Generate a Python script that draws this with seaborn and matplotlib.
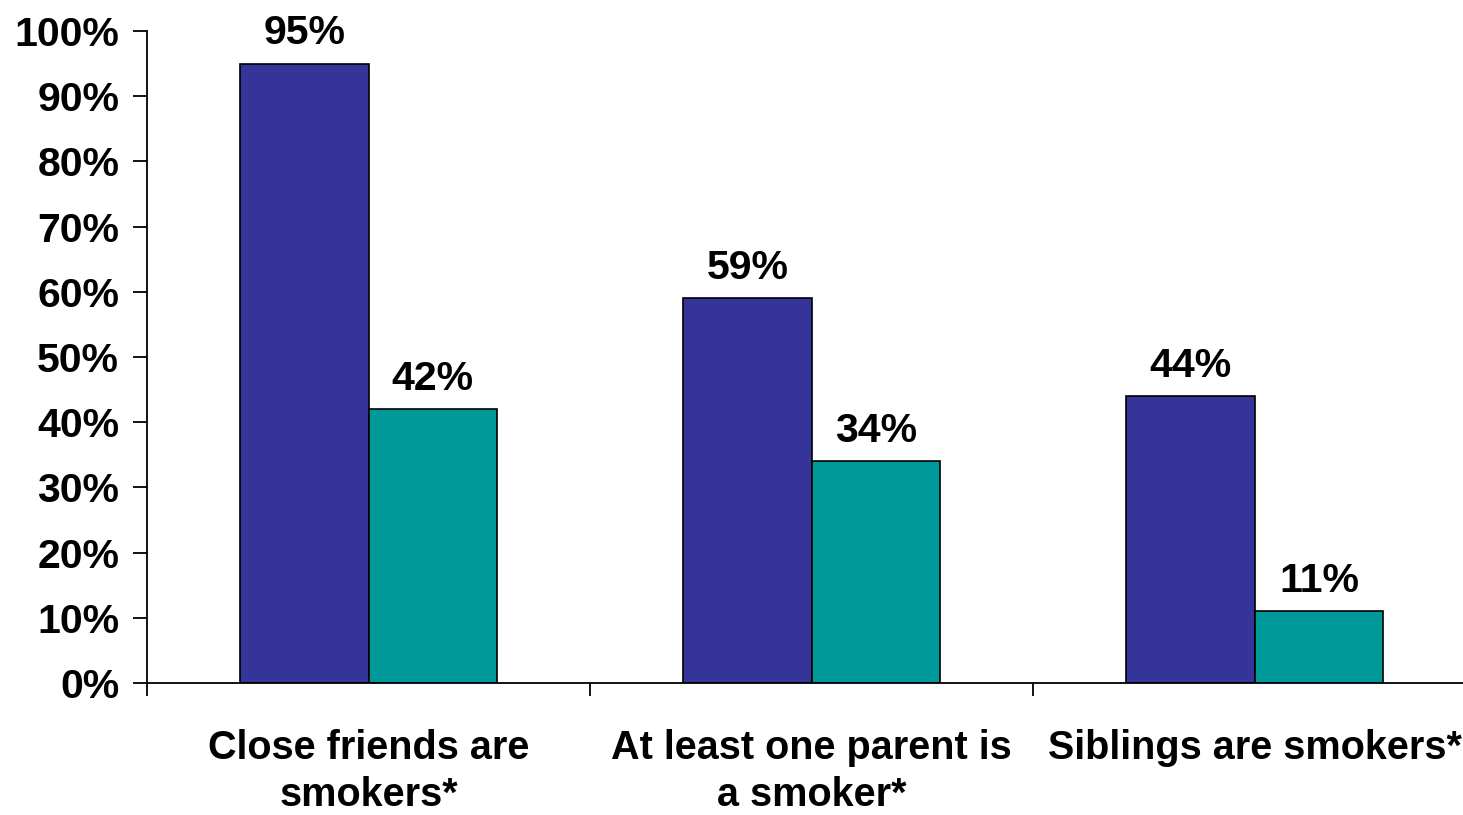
import matplotlib
matplotlib.use("Agg")
import matplotlib.pyplot as plt
import seaborn as sns
import pandas as pd
from matplotlib.ticker import FixedLocator

# Share of respondents reporting each smoking influence
categories = ["Close friends are\nsmokers*", "At least one parent is\na smoker*", "Siblings are smokers*"]
groups = ["Smokers", "Non-smokers"]
smokers = [95, 59, 44]
non_smokers = [42, 34, 11]
y_ticks = list(range(0, 101, 10))
y_tick_labels = [f"{t}%" for t in y_ticks]
colors = ["#343499", "#009999"]

df = pd.DataFrame({
    "category": categories * 2,
    "group": [groups[0]] * 3 + [groups[1]] * 3,
    "value": smokers + non_smokers,
})

sns.set_theme(style="white")
plt.rcParams["font.family"] = ["Liberation Sans", "DejaVu Sans"]
plt.rcParams["font.weight"] = "bold"
plt.rcParams["text.color"] = "black"
plt.rcParams["xtick.color"] = "black"
plt.rcParams["ytick.color"] = "black"
plt.rcParams["xtick.labelcolor"] = "black"
plt.rcParams["ytick.labelcolor"] = "black"

FS = 29.5
FS_X = 28.5

fig = plt.figure(figsize=(14.63, 8.15), dpi=100)
ax = fig.add_axes([0.1005, 0.162, 0.9085, 0.800])

sns.barplot(data=df, x="category", y="value", hue="group", palette=colors,
            width=0.58, edgecolor="black", linewidth=1.2, saturation=1,
            legend=False, ax=ax)

for cont in ax.containers:
    vals = [p.get_height() for p in cont]
    ax.bar_label(cont, labels=[f"{v:.0f}%" for v in vals], padding=8,
                 fontsize=FS, fontweight="bold", color="black")

ax.set_xlim(-0.5, 2.5)
ax.set_ylim(0, 100)
ax.set_yticks(y_ticks)
ax.set_yticklabels(y_tick_labels, fontsize=FS, fontweight="bold", color="black")
ax.set_xticks(range(len(categories)))
ax.set_xticklabels(categories, fontsize=FS_X, fontweight="bold", color="black", linespacing=1.3)
ax.xaxis.set_minor_locator(FixedLocator([-0.5, 0.5, 1.5]))
ax.set_xlabel("")
ax.set_ylabel("")

ax.tick_params(axis="x", which="major", length=0, pad=33)
ax.tick_params(axis="x", which="minor", length=9, width=1.3, color="black", direction="out", bottom=True)
ax.tick_params(axis="y", length=10, width=1.3, color="black", direction="out", left=True, pad=10)

for side in ["top", "right"]:
    ax.spines[side].set_visible(False)
for side in ["left", "bottom"]:
    ax.spines[side].set_color("black")
    ax.spines[side].set_linewidth(1.3)

fig.savefig("out.png", dpi=100, facecolor="white")
